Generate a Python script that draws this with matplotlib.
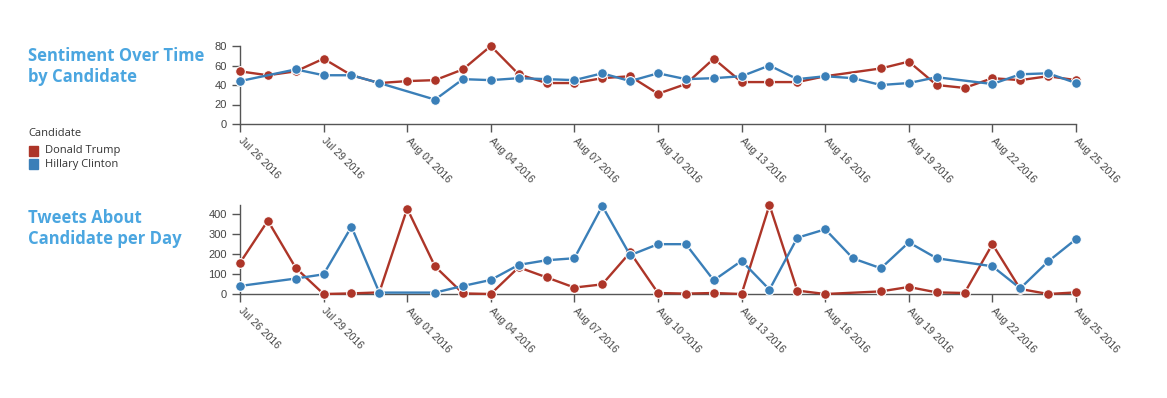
import matplotlib
matplotlib.use("Agg")
import matplotlib.pyplot as plt
import matplotlib.dates as mdates
from datetime import date, timedelta
from matplotlib.patches import Rectangle

# one value per day, Jul 26 .. Aug 25 2016 (None = no data that day)
days = [date(2016, 7, 26) + timedelta(days=i) for i in range(31)]

trump_sentiment = [54, 50, 54, 67, 50, 42, 44, 45, 56, 80, 51, 42, 42, 47, 49, 31,
                   41, 67, 43, 43, 43, 49, None, 57, 64, 40, 37, 47, 45, 49, 45]
clinton_sentiment = [44, None, 56, 50, 50, 42, None, 25, 46, 45, 47, 46, 45, 52, 44, 52,
                     46, 47, 49, 60, 46, 49, 47, 40, 42, 48, None, 41, 51, 52, 42]

trump_tweets = [155, 365, 130, 0, 3, 8, 425, 137, 3, 0, 133, 83, 32, 48, 207, 5,
                2, 5, 0, 443, 17, 0, None, 13, 35, 8, 5, 248, 25, 0, 8]
clinton_tweets = [40, None, 77, 98, 335, 7, None, 7, 40, 70, 145, 168, 178, 438, 193, 248,
                  248, 68, 165, 22, 280, 322, 177, 128, 257, 178, None, 138, 28, 162, 273]

names = ["Donald Trump", "Hillary Clinton"]
colors = ["#ad3528", "#3a7fb8"]
title_color = "#4ba6e0"

W, H = 1167, 398
fig = plt.figure(figsize=(W / 100, H / 100), dpi=100)


def px_axes(left, top, right, bottom):
    return fig.add_axes([left / W, 1 - bottom / H, (right - left) / W, (bottom - top) / H])


def draw_panel(ax, series, ymax, yticks):
    for vals, c in zip(series, colors):
        xs = [d for d, v in zip(days, vals) if v is not None]
        ys = [v for v in vals if v is not None]
        ax.plot(xs, ys, color=c, lw=1.7, marker="o", ms=7,
                mec="white", mew=0.8, zorder=3, clip_on=False)
    ax.set_xlim(days[0], days[-1])
    ax.set_ylim(0, ymax)
    ax.set_yticks(yticks)
    ax.set_xticks([days[i] for i in range(0, 31, 3)])
    ax.xaxis.set_major_formatter(mdates.DateFormatter("%b %d %Y"))
    for s in ["top", "right"]:
        ax.spines[s].set_visible(False)
    for s in ["left", "bottom"]:
        ax.spines[s].set_color("#555555")
        ax.spines[s].set_linewidth(1)
    ax.tick_params(axis="both", colors="#555555", labelcolor="#444444",
                   length=6, width=1, labelsize=8)
    ax.tick_params(axis="x", labelsize=7.5, pad=5)
    for lab in ax.get_xticklabels():
        lab.set_rotation(-45)
        lab.set_ha("left")
        lab.set_va("center")
        lab.set_rotation_mode("anchor")
        lab.set_family(["Liberation Sans", "DejaVu Sans"])
    for lab in ax.get_yticklabels():
        lab.set_family(["Liberation Sans", "DejaVu Sans"])
    ax.set_facecolor("none")


ax1 = px_axes(240, 46, 1076, 124)
draw_panel(ax1, [trump_sentiment, clinton_sentiment], 80, [0, 20, 40, 60, 80])

ax2 = px_axes(240, 205, 1076, 294)
draw_panel(ax2, [trump_tweets, clinton_tweets], 443, [0, 100, 200, 300, 400])

title_font = dict(family=["Open Sans", "DejaVu Sans"], weight="bold",
                  fontsize=12, color=title_color, va="top", ha="left",
                  linespacing=1.2)
fig.text(28 / W, 1 - 47 / H, "Sentiment Over Time\nby Candidate", **title_font)
fig.text(28 / W, 1 - 209 / H, "Tweets About\nCandidate per Day", **title_font)

# legend
fig.text(28 / W, 1 - 134 / H, "Candidate", fontsize=8, color="#333333",
         va="center", ha="left", family=["Open Sans", "DejaVu Sans"])
for i, (n, c) in enumerate(zip(names, colors)):
    yc = 151 + i * 13
    fig.patches.append(Rectangle((29 / W, 1 - (yc + 5) / H), 9 / W, 10 / H,
                                 transform=fig.transFigure, color=c))
    fig.text(45 / W, 1 - yc / H, n, fontsize=8, color="#333333",
             va="center", ha="left", family=["Open Sans", "DejaVu Sans"])

fig.savefig("out.png", dpi=100)
